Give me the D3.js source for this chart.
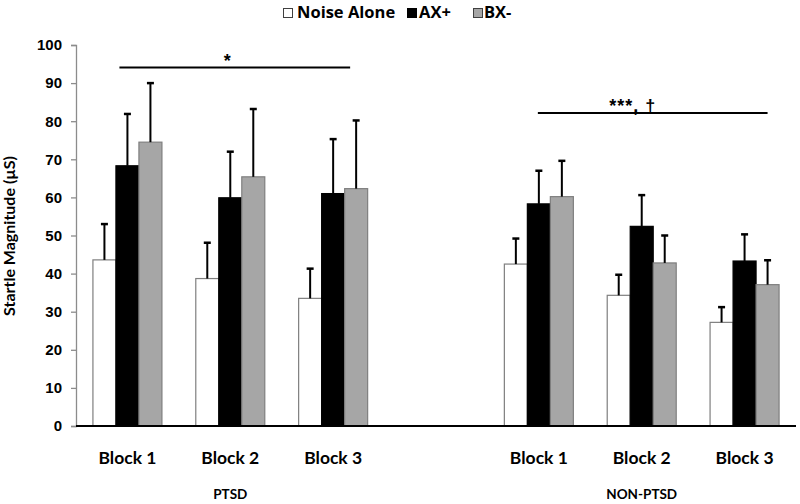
<!DOCTYPE html>
<html><head><meta charset="utf-8">
<script src="https://cdn.jsdelivr.net/npm/d3@7"></script>
<style>body{margin:0;background:#fff}svg{display:block}</style>
</head><body>
<script>
const categories = ["PTSD|Block 1","PTSD|Block 2","PTSD|Block 3","gap","NON|Block 1","NON|Block 2","NON|Block 3"];
const blockLabels = ["Block 1","Block 2","Block 3","","Block 1","Block 2","Block 3"];
const seriesNames = ["Noise Alone","AX+","BX-"];
const noiseAlone = [43.6,38.7,33.5,null,42.5,34.3,27.2];
const noiseErr   = [9.4,9.4,7.8,null,6.7,5.4,4.0];
const axPlus     = [68.3,59.9,61.0,null,58.3,52.4,43.3];
const axErr      = [13.6,12.1,14.3,null,8.7,8.2,7.0];
const bxMinus    = [74.5,65.4,62.3,null,60.2,42.8,37.1];
const bxErr      = [15.5,17.8,17.9,null,9.4,7.2,6.4];
const yTicks = [0,10,20,30,40,50,60,70,80,90,100];
const groupLabels = ["PTSD","NON-PTSD"];
const sigLabels = ["*","***, †"];

const W=800,H=504;
const svg=d3.select("body").append("svg").attr("width",W).attr("height",H);
const x=d3.scaleBand().domain(categories).range([76,796]);
const y=d3.scaleLinear().domain([0,100]).range([426,45]);
const inner=d3.scaleBand().domain(seriesNames).range([0,x.bandwidth()]).paddingInner(0).paddingOuter(0.736);
const fills=["#ffffff","#000000","#a6a6a6"];
const strokes=["#7f7f7f","#000000","#7f7f7f"];
const vals=[noiseAlone,axPlus,bxMinus], errs=[noiseErr,axErr,bxErr];
const cx=c=>x(c)+x.bandwidth()/2;

// y axis
const ya=svg.append("g").attr("transform","translate(76,0)")
 .call(d3.axisLeft(y).tickValues(yTicks).tickSize(5).tickPadding(9));
ya.select(".domain").attr("stroke","#8c8c8c").attr("stroke-width",1.3);
ya.selectAll(".tick line").attr("stroke","#8c8c8c").attr("stroke-width",1.3);
ya.selectAll(".tick text").attr("font-family","Liberation Sans, Arial, sans-serif").attr("font-weight","bold").attr("font-size",15).attr("fill","#000");

svg.append("text").attr("transform","translate(15,236) rotate(-90)").attr("text-anchor","middle")
 .attr("font-family","Lato, sans-serif").attr("font-weight","bold").attr("font-size",16).text("Startle Magnitude (µS)");

// bars
seriesNames.forEach((s,si)=>{
  const g=svg.append("g");
  categories.forEach((c,ci)=>{
    const v=vals[si][ci]; if(v==null) return;
    g.append("rect").attr("x",x(c)+inner(s)).attr("y",y(v)).attr("width",inner.bandwidth()).attr("height",y(0)-y(v))
     .attr("fill",fills[si]).attr("stroke",strokes[si]).attr("stroke-width",1.2);
  });
});
// error bars
seriesNames.forEach((s,si)=>{
  categories.forEach((c,ci)=>{
    const v=vals[si][ci]; if(v==null) return;
    const bx=x(c)+inner(s)+inner.bandwidth()/2;
    const top=y(v+errs[si][ci]);
    svg.append("line").attr("x1",bx).attr("x2",bx).attr("y1",y(v)).attr("y2",top).attr("stroke","#000").attr("stroke-width",2);
    svg.append("line").attr("x1",bx-3.5).attr("x2",bx+3.5).attr("y1",top).attr("y2",top).attr("stroke","#000").attr("stroke-width",2.5);
  });
});

// x axis line
svg.append("line").attr("x1",76).attr("x2",796).attr("y1",y(0)).attr("y2",y(0)).attr("stroke","#000").attr("stroke-width",2);

// x labels
categories.forEach((c,ci)=>{
  if(!blockLabels[ci]) return;
  svg.append("text").attr("x",cx(c)).attr("y",464).attr("text-anchor","middle")
   .attr("font-family","Lato, sans-serif").attr("font-weight","bold").attr("font-size",17.5).text(blockLabels[ci]);
});
const gx=[cx(categories[1]), cx(categories[5])];
groupLabels.forEach((g,i)=>{
  svg.append("text").attr("x",gx[i]).attr("y",499).attr("text-anchor","middle")
   .attr("font-family","Lato, sans-serif").attr("font-weight","bold").attr("font-size",13.5).text(g);
});

// significance
const sigLayout=[
  {c1:0,c2:2,o1:-8,o2:17,yy:67.5,tc:1,to:-3},
  {c1:4,c2:6,o1:-1,o2:23,yy:113,tc:5,to:-9}
];
sigLayout.forEach((s,i)=>{
  const x1=cx(categories[s.c1])+s.o1, x2=cx(categories[s.c2])+s.o2;
  svg.append("line").attr("x1",x1).attr("x2",x2).attr("y1",s.yy).attr("y2",s.yy).attr("stroke","#000").attr("stroke-width",2);
  svg.append("text").attr("x",cx(categories[s.tc])+s.to).attr("y",s.yy+(i==0?-1:-1)).attr("text-anchor","middle")
   .attr("font-family","Liberation Sans, Arial, sans-serif").attr("font-weight","bold").attr("font-size",18)
   .attr("letter-spacing",i==1?1:0).text(sigLabels[i]);
});

// legend
const leg=svg.append("g").attr("font-family","Open Sans, sans-serif").attr("font-weight","bold").attr("font-size",16.5);
const legSq=[283,407,473], legTx=[297,419,484];
seriesNames.forEach((s,i)=>{
  leg.append("rect").attr("x",legSq[i]+0.5).attr("y",8.5).attr("width",9).attr("height",9)
   .attr("fill",fills[i]).attr("stroke",i==1?"#000":"#404040").attr("stroke-width",1);
  leg.append("text").attr("x",legTx[i]).attr("y",18).text(s);
});
</script>
</body></html>
